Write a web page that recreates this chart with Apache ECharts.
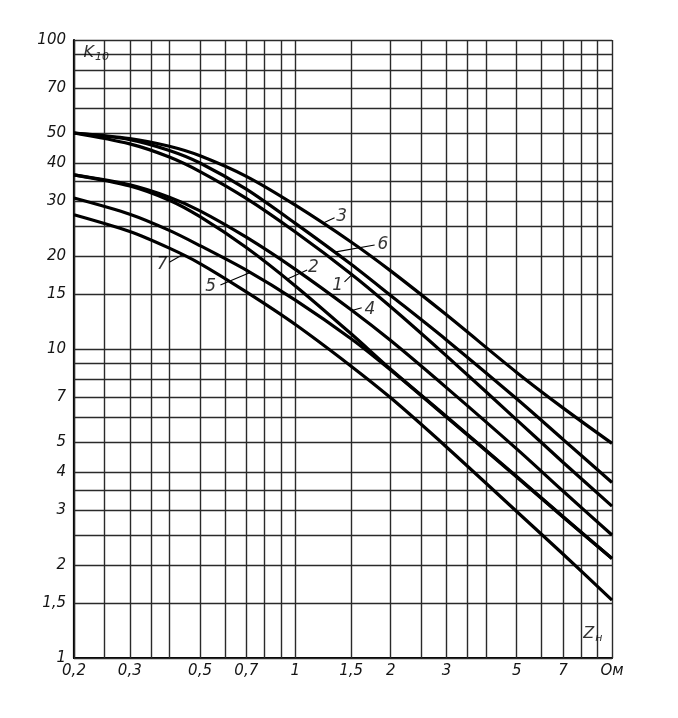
<!DOCTYPE html>
<html><head><meta charset="utf-8">
<script src="https://cdn.jsdelivr.net/npm/echarts@6/dist/echarts.min.js"></script>
<style>html,body{margin:0;padding:0;background:#fff}#c{width:678px;height:718px}</style>
</head><body><div id="c"></div>
<script>
// ---- data ----
const zValues = [0.2, 0.3, 0.4, 0.5, 0.7, 1, 1.5, 2, 3, 5, 7, 10];
const curve1 = [50, 46.1, 41.8, 37.5, 30.7, 23.9, 17.5, 13.7, 9.5, 5.9, 4.3, 3.1];
const curve2 = [36.6, 33.7, 30.3, 26.8, 21.3, 16.0, 11.2, 8.6, 6.05, 3.87, 2.87, 2.1];
const curve3 = [50, 48, 45.3, 42.2, 36.2, 29.2, 22.2, 17.9, 12.9, 8.4, 6.45, 4.95];
const curve4 = [36.6, 34.0, 31.0, 28.0, 23.0, 18.1, 13.4, 10.65, 7.5, 4.75, 3.47, 2.5];
const curve5 = [30.8, 27.3, 24.2, 21.6, 18.0, 14.4, 10.8, 8.55, 6.02, 3.85, 2.86, 2.1];
const curve6 = [50, 47.6, 43.9, 40.0, 32.9, 25.5, 18.8, 14.9, 10.7, 6.9, 5.1, 3.7];
const curve7 = [27.2, 24.0, 21.2, 18.9, 15.3, 12.0, 8.8, 6.95, 4.82, 2.98, 2.17, 1.54];
const curveNames = ['1', '2', '3', '4', '5', '6', '7'];
const curves = [curve1, curve2, curve3, curve4, curve5, curve6, curve7];

const xGrid = [0.2, 0.25, 0.3, 0.35, 0.4, 0.5, 0.6, 0.7, 0.8, 0.9, 1, 1.5, 2, 2.5, 3, 3.5, 4, 5, 6, 7, 8, 9, 10];
const yGrid = [1, 1.5, 2, 2.5, 3, 3.5, 4, 5, 6, 7, 8, 9, 10, 15, 20, 25, 30, 35, 40, 50, 60, 70, 80, 90, 100];
const xTickValues = [0.2, 0.3, 0.5, 0.7, 1, 1.5, 2, 3, 5, 7, 10];
const xTickText = ['0,2', '0,3', '0,5', '0,7', '1', '1,5', '2', '3', '5', '7', 'Ом'];
const yTickValues = [1, 1.5, 2, 3, 4, 5, 7, 10, 15, 20, 30, 40, 50, 70, 100];
const yTickText = ['1', '1,5', '2', '3', '4', '5', '7', '10', '15', '20', '30', '40', '50', '70', '100'];

// curve number annotations: [curve index, x on curve, leader end x, leader end y, text x, text y]
const annotations = [
  [0, 1.51, 1.43, 16.5, 1.36, 16.1],
  [1, 0.94, 1.09, 18.0, 1.14, 18.3],
  [2, 1.22, 1.33, 26.6, 1.40, 26.8],
  [3, 1.51, 1.62, 13.6, 1.72, 13.4],
  [4, 0.72, 0.58, 16.1, 0.54, 15.9],
  [5, 1.33, 1.78, 21.7, 1.89, 21.7],
  [6, 0.44, 0.40, 19.1, 0.38, 18.8]
];

// ---- helpers ----
function logInterp(xs, ys, x) {
  for (let i = 0; i < xs.length - 1; i++) {
    if (x >= xs[i] && x <= xs[i + 1]) {
      const t = (Math.log(x) - Math.log(xs[i])) / (Math.log(xs[i + 1]) - Math.log(xs[i]));
      return Math.exp(Math.log(ys[i]) + t * (Math.log(ys[i + 1]) - Math.log(ys[i])));
    }
  }
  return ys[ys.length - 1];
}
const FONT = 'DejaVu Sans';
const INK = '#151515';
const tickLabel = {
  show: true, color: INK, fontStyle: 'italic', fontFamily: FONT, fontSize: 15
};

const chart = echarts.init(document.getElementById('c'), null, {renderer: 'canvas'});

const gridSeries = {
  type: 'line', data: [], silent: true, animation: false,
  markLine: {
    silent: true, symbol: 'none', animation: false,
    lineStyle: {color: '#2a2a2a', width: 1.4, type: 'solid'},
    data: [
      ...xGrid.map(v => {
        const i = xTickValues.indexOf(v);
        return {xAxis: v, label: i >= 0 ? Object.assign({}, tickLabel, {position: 'start', distance: 6, formatter: xTickText[i]}) : {show: false}};
      }),
      ...yGrid.map(v => {
        const i = yTickValues.indexOf(v);
        return {yAxis: v, label: i >= 0 ? Object.assign({}, tickLabel, {position: 'start', distance: 8, formatter: yTickText[i]}) : {show: false}};
      })
    ]
  }
};

const curveSeries = curves.map((ys, k) => {
  const ann = annotations.find(a => a[0] === k);
  return {
    type: 'line', name: curveNames[k], smooth: 0.3, showSymbol: false, animation: false,
    data: zValues.map((x, i) => [x, ys[i]]),
    lineStyle: {color: '#000', width: 3.2},
    z: 5,
    markLine: ann ? {
      silent: true, symbol: 'none', animation: false,
      lineStyle: {color: '#000', width: 1.1, type: 'solid'},
      label: {show: false},
      data: [[{coord: [ann[1], logInterp(zValues, ys, ann[1])]}, {coord: [ann[2], ann[3]]}]]
    } : undefined
  };
});

const labelSeries = {
  type: 'scatter', symbolSize: 0, silent: true, animation: false, z: 6,
  data: annotations.map(a => ({name: curveNames[a[0]], value: [a[4], a[5]]})),
  label: {show: true, position: 'inside', formatter: '{b}', color: '#000', fontSize: 17, fontStyle: 'italic', fontFamily: FONT}
};

const axisTitleSeries = {
  type: 'scatter', symbolSize: 0, silent: true, animation: false, z: 6,
  data: [
    {name: 'K', value: [0.235, 91], label: {formatter: '{a|K}{b|10}'}},
    {name: 'Z', value: [8.7, 1.2], label: {formatter: '{a|Z}{b|н}'}}
  ],
  label: {
    show: true, position: 'inside', color: '#000',
    rich: {
      a: {fontSize: 16, fontStyle: 'italic', fontFamily: FONT, color: '#000'},
      b: {fontSize: 11, fontStyle: 'italic', fontFamily: FONT, color: '#000', padding: [9, 0, 0, 1]}
    }
  }
};

chart.setOption({
  backgroundColor: '#fff',
  animation: false,
  grid: {left: 74, right: 66, top: 40, bottom: 60, containLabel: false},
  xAxis: {
    type: 'log', logBase: 10, min: 0.2, max: 10,
    axisLine: {show: true, onZero: false, lineStyle: {color: '#000', width: 2.2}},
    axisTick: {show: false}, axisLabel: {show: false}, splitLine: {show: false}
  },
  yAxis: {
    type: 'log', logBase: 10, min: 1, max: 100,
    axisLine: {show: true, onZero: false, lineStyle: {color: '#000', width: 2.2}},
    axisTick: {show: false}, axisLabel: {show: false}, splitLine: {show: false}
  },
  series: [gridSeries, ...curveSeries, labelSeries, axisTitleSeries]
});
</script>
</body></html>
